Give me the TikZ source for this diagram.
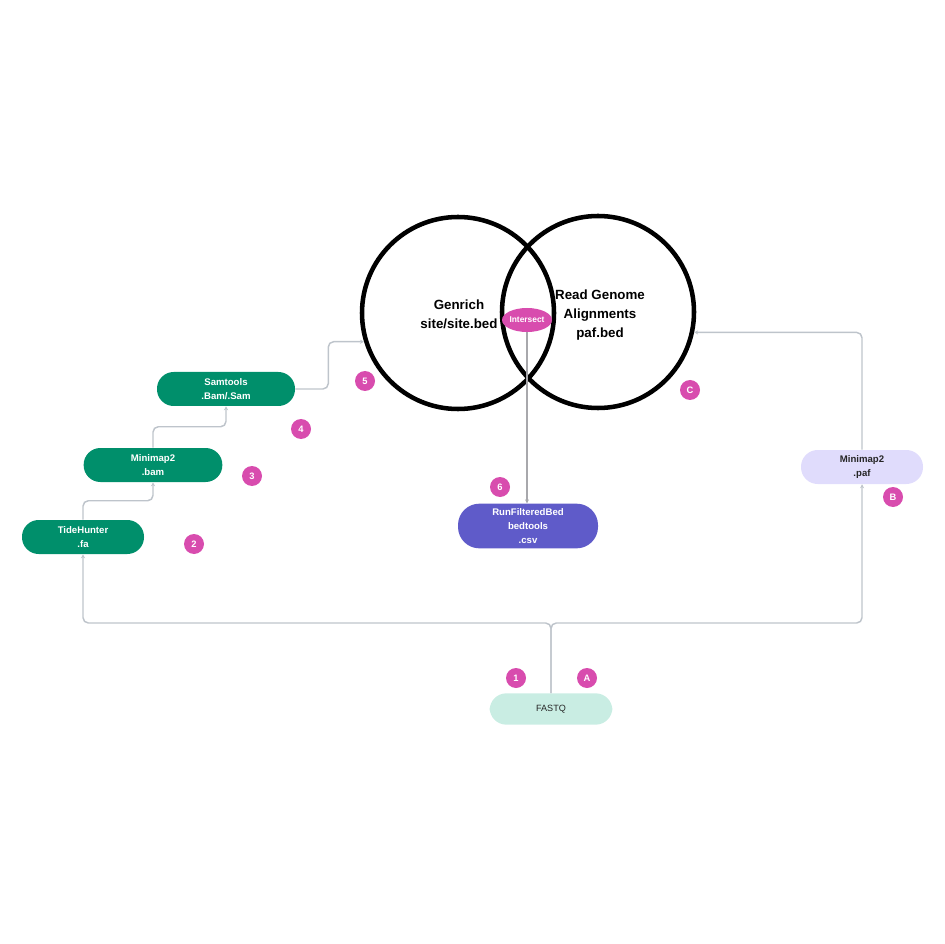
\documentclass[tikz,border=0pt]{standalone}
\usepackage{fontspec}
\setsansfont{Liberation Sans}
\usetikzlibrary{arrows.meta, positioning}
\definecolor{stagegreen}{RGB}{0,143,107}
\definecolor{filterblue}{RGB}{95,91,201}
\definecolor{badgepink}{RGB}{216,76,174}
\definecolor{paflav}{RGB}{224,220,252}
\definecolor{fastqmint}{RGB}{201,237,227}
\definecolor{linkgray}{RGB}{190,196,203}
\definecolor{cutgray}{RGB}{168,168,172}
\tikzset{
  stage/.style={
    fill=stagegreen, text=white, rounded corners=12.5pt,
    minimum height=25.5pt, align=center, inner sep=0pt,
    font=\sffamily\bfseries\fontsize{7.2}{10.5}\selectfont
  },
  stagepaf/.style={stage, fill=paflav, text=black!85},
  stagefq/.style={stage, fill=fastqmint, text=black!85,
    font=\sffamily\fontsize{6.8}{10}\selectfont},
  stagebed/.style={stage, fill=filterblue, rounded corners=16pt,
    minimum height=33.5pt},
  venn/.style={
    circle, draw=black, line width=3.4pt, minimum size=144pt,
    inner sep=0pt, align=center
  },
  venntext/.style={align=center, inner sep=0pt,
    font=\sffamily\bfseries\fontsize{10}{14.5}\selectfont},
  cut/.style={
    ellipse, fill=badgepink, text=white, minimum width=37.5pt,
    minimum height=18pt, inner sep=0pt,
    font=\sffamily\bfseries\fontsize{6.3}{7}\selectfont
  },
  badge/.style={
    circle, fill=badgepink, text=white, minimum size=15pt,
    inner sep=0pt, font=\sffamily\bfseries\fontsize{7}{7}\selectfont
  },
  link/.style={draw=linkgray, line width=1.1pt, rounded corners=4pt,
    -{Stealth[length=3pt,width=3pt]}},
  linkcut/.style={link, draw=cutgray}
}
\usetikzlibrary{shapes.geometric}
\begin{document}
\begin{tikzpicture}[x=0.75pt, y=-0.75pt]
  \useasboundingbox (0,0) rectangle (945,944);

  % venn part
  \node[venn] (genrich) at (458,313) {};
  \node[venn] (readgen) at (598,312) {};
  \node[venntext] (gentxt)  at (459,314) {Genrich\\site/site.bed};
  \node[venntext] (readtxt) at (600,315) {Read Genome\\Alignments\\paf.bed};
  \node[cut]  (isect)   at (527,320) {Intersect};

  % stages
  \node[stage, minimum width=91.5pt]  (tide) at (83,537)  {TideHunter\\.fa};
  \node[stage, minimum width=104pt]   (bam)  at (153,465) {Minimap2\\.bam};
  \node[stage, minimum width=103.5pt] (sam)  at (226,389) {Samtools\\.Bam/.Sam};
  \node[stagepaf, minimum width=91.5pt] (paf) at (862,467) {Minimap2\\.paf};
  \node[stagefq, minimum width=92pt, minimum height=23.5pt] (fastq) at (551,709) {FASTQ};
  \node[stagebed, minimum width=105pt] (fbed) at (528,526) {RunFilteredBed\\bedtools\\.csv};

  \coordinate (split) at (551,623);

  % connectors
  \draw[link] (fastq.north) -- (split) -| (tide.south);
  \draw[link] (fastq.north) -- (split) -| (paf.south);
  \draw[link] (tide.north) -- ++(0,-19) -| (bam.south);
  \draw[link] (bam.north) -- ++(0,-21) -| (sam.south);
  \draw[link] (sam.east) -- ++(33,0) |- (genrich.197);
  \draw[link] (paf.north) |- (readgen.348);
  \draw[linkcut] (isect.south) -- (isect.south |- fbed.north);

  % step badges
  \node[badge] (b1) at (516,678) {1};
  \node[badge] (b2) at (194,544) {2};
  \node[badge] (b3) at (252,476) {3};
  \node[badge] (b4) at (301,429) {4};
  \node[badge] (b5) at (365,381) {5};
  \node[badge] (b6) at (500,487) {6};
  \node[badge] (ba) at (587,678) {A};
  \node[badge] (bb) at (893,497) {B};
  \node[badge] (bc) at (690,390) {C};
\end{tikzpicture}
\end{document}
